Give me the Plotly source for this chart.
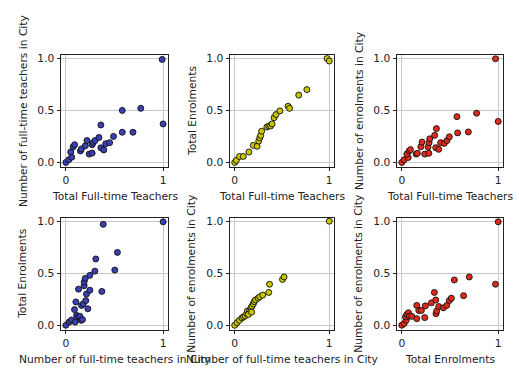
import plotly.graph_objects as go

# Panel 1: Total Full-time Teachers vs Number of full-time teachers in City
p1_x = [0, 0.03, 0.06, 0.05, 0.075, 0.09, 0.15, 0.16, 0.20, 0.217, 0.24, 0.27, 0.27, 0.28, 0.30,
        0.34, 0.36, 0.36, 0.39, 0.41, 0.45, 0.49, 0.58, 0.58, 0.69, 0.77, 0.99, 1.0]
p1_y = [0, 0.025, 0.05, 0.10, 0.15, 0.17, 0.11, 0.13, 0.16, 0.21, 0.08, 0.09, 0.17, 0.19, 0.21,
        0.24, 0.36, 0.14, 0.12, 0.18, 0.19, 0.25, 0.50, 0.29, 0.29, 0.52, 0.99, 0.37]

# Panel 2: Total Full-time Teachers vs Total Enrolments
p2_x = [0, 0.017, 0.05, 0.09, 0.15, 0.196, 0.237, 0.254, 0.265, 0.275, 0.285, 0.34, 0.36, 0.38,
        0.395, 0.416, 0.436, 0.478, 0.564, 0.58, 0.677, 0.763, 0.976, 1.0]
p2_y = [0, 0.02, 0.057, 0.057, 0.10, 0.164, 0.155, 0.205, 0.237, 0.26, 0.30, 0.34, 0.35, 0.35,
        0.37, 0.43, 0.46, 0.495, 0.54, 0.52, 0.647, 0.70, 1.0, 0.975]

# Panel 3: Total Full-time Teachers vs Number of enrolments in City
p3_x = [0, 0.024, 0.066, 0.052, 0.076, 0.09, 0.148, 0.162, 0.197, 0.21, 0.238, 0.28, 0.272, 0.283,
        0.29, 0.341, 0.359, 0.352, 0.383, 0.403, 0.441, 0.469, 0.493, 0.572, 0.579, 0.69, 0.776,
        0.972, 1.0]
p3_y = [0, 0.025, 0.047, 0.08, 0.11, 0.123, 0.08, 0.088, 0.15, 0.196, 0.08, 0.088, 0.148, 0.19,
        0.227, 0.26, 0.325, 0.142, 0.126, 0.19, 0.183, 0.21, 0.246, 0.44, 0.284, 0.293, 0.473,
        0.997, 0.394]

# Panel 4: Number of full-time teachers in City vs Total Enrolments
p4_x = [0, 0.034, 0.058, 0.096, 0.103, 0.089, 0.11, 0.127, 0.144, 0.158, 0.171, 0.13, 0.161, 0.178,
        0.188, 0.188, 0.199, 0.212, 0.226, 0.205, 0.247, 0.247, 0.298, 0.308, 0.37, 0.384, 0.503,
        0.53, 1.0]
p4_y = [0, 0.03, 0.05, 0.03, 0.224, 0.15, 0.095, 0.08, 0.085, 0.047, 0.054, 0.347, 0.19, 0.205,
        0.38, 0.416, 0.45, 0.30, 0.158, 0.237, 0.337, 0.48, 0.52, 0.637, 0.325, 0.97, 0.53,
        0.70, 0.994]

# Panel 5: Number of full-time teachers in City vs Number of enrolments in City
p5_x = [0, 0.024, 0.05, 0.076, 0.093, 0.11, 0.127, 0.134, 0.151, 0.16, 0.172, 0.182, 0.196, 0.206,
        0.22, 0.247, 0.265, 0.296, 0.368, 0.36, 0.505, 0.522, 0.144, 0.178, 1.0]
p5_y = [0, 0.025, 0.047, 0.07, 0.08, 0.09, 0.11, 0.136, 0.12, 0.14, 0.167, 0.183, 0.205, 0.227,
        0.243, 0.26, 0.274, 0.29, 0.394, 0.315, 0.44, 0.464, 0.104, 0.126, 1.0]

# Panel 6: Total Enrolments vs Number of enrolments in City
p6_x = [0, 0.024, 0.045, 0.038, 0.052, 0.069, 0.079, 0.103, 0.155, 0.155, 0.176, 0.203, 0.245,
        0.238, 0.307, 0.338, 0.352, 0.355, 0.362, 0.383, 0.431, 0.466, 0.493, 0.514, 0.545, 0.641,
        0.70, 0.972, 1.0]
p6_y = [0, 0.016, 0.047, 0.08, 0.104, 0.12, 0.088, 0.085, 0.063, 0.19, 0.142, 0.142, 0.186,
        0.073, 0.215, 0.315, 0.243, 0.11, 0.136, 0.18, 0.167, 0.19, 0.237, 0.26, 0.435, 0.284,
        0.464, 0.394, 0.994]

x_titles = ["Total Full-time Teachers", "Total Full-time Teachers", "Total Full-time Teachers",
            "Number of full-time teachers in City", "Number of full-time teachers in City",
            "Total Enrolments"]
y_titles = ["Number of full-time teachers in City", "Total Enrolments",
            "Number of enrolments in City", "Total Enrolments",
            "Number of enrolments in City", "Number of enrolments in City"]
colors = ["#3a40b4", "#c8c400", "#e02a1c", "#3a40b4", "#c8c400", "#e02a1c"]

panels = [(p1_x, p1_y), (p2_x, p2_y), (p3_x, p3_y), (p4_x, p4_y), (p5_x, p5_y), (p6_x, p6_y)]

W, H = 519, 375
col_px = [(61, 168), (230, 334), (397, 503)]
row_px = [(53, 166), (218, 331)]

fig = go.Figure()
FONT = dict(family="DejaVu Sans", size=10.7, color="#222222")

for i, (xs, ys) in enumerate(panels):
    r, c = divmod(i, 3)
    n = i + 1
    xa = "x" if n == 1 else f"x{n}"
    ya = "y" if n == 1 else f"y{n}"
    fig.add_trace(go.Scatter(
        x=xs, y=ys, mode="markers", xaxis=xa, yaxis=ya, showlegend=False,
        marker=dict(size=6, color=colors[i], line=dict(color="#111111", width=0.9)),
    ))
    xdom = [col_px[c][0] / W, col_px[c][1] / W]
    ydom = [1 - row_px[r][1] / H, 1 - row_px[r][0] / H]
    common = dict(showline=True, linecolor="#222222", linewidth=1, mirror=True,
                  ticks="outside", ticklen=3.5, tickcolor="#222222", tickwidth=0.8,
                  showgrid=True, gridcolor="#c8c8c8", gridwidth=0.8, zeroline=False,
                  tickfont=FONT)
    fig.layout[f"xaxis{'' if n == 1 else n}"] = dict(
        domain=xdom, anchor=ya, range=[-0.05, 1.05], tickvals=[0, 1], ticktext=["0", "1"],
        **common)
    fig.layout[f"yaxis{'' if n == 1 else n}"] = dict(
        domain=ydom, anchor=xa, range=[-0.042, 1.03], tickvals=[0, 0.5, 1.0],
        ticktext=["0.0", "0.5", "1.0"], **common)
    # axis titles as annotations for exact placement
    fig.add_annotation(text=x_titles[i], xref="paper", yref="paper",
                       x=(col_px[c][0] + col_px[c][1]) / 2 / W,
                       y=1 - (row_px[r][1] + 30) / H,
                       xanchor="center", yanchor="middle", showarrow=False, font=FONT)
    fig.add_annotation(text=y_titles[i], xref="paper", yref="paper",
                       x=(col_px[c][0] - 38) / W,
                       y=1 - (row_px[r][0] + row_px[r][1]) / 2 / H,
                       xanchor="center", yanchor="middle", textangle=-90,
                       showarrow=False, font=FONT)

fig.update_layout(width=W, height=H, margin=dict(l=0, r=0, t=0, b=0),
                  paper_bgcolor="white", plot_bgcolor="white", font=FONT)

fig.write_html("out.html", config={"displayModeBar": False},
               post_script="document.body.style.margin='0';")
